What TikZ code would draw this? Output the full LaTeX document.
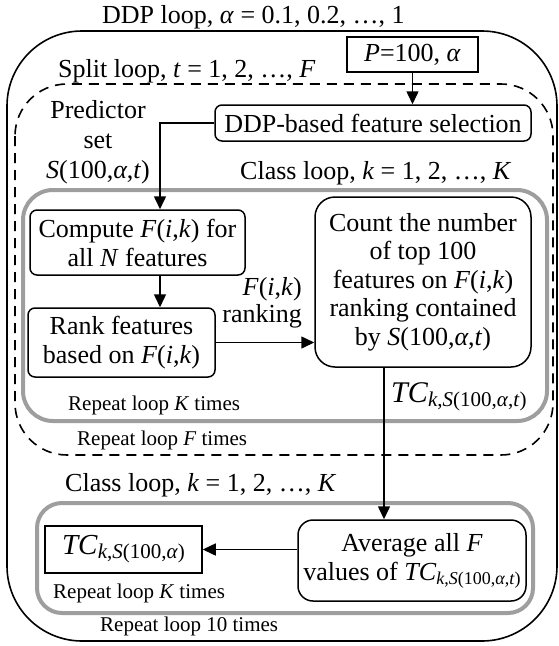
\documentclass[tikz,border=0pt]{standalone}
\usepackage{fontspec}
\setmainfont{Liberation Serif}
\usetikzlibrary{arrows.meta}
\definecolor{loopgray}{RGB}{158,158,158}
% italic symbol inside running text
\newcommand{\mi}[1]{\textit{#1}}
% TC with a lowered subscript: #1 size of TC, #2 size of subscript, #3 subscript
\newcommand{\TCsub}[3]{{\fontsize{#1}{#1}\selectfont\mi{TC}}\raisebox{-4pt}{\fontsize{#2}{#2}\selectfont #3}}
\begin{document}
\begin{tikzpicture}[x=1pt,y=-1pt,
  txt/.style={font=\fontsize{26}{30}\selectfont, inner sep=0pt},
  small/.style={font=\fontsize{21}{24}\selectfont, inner sep=0pt},
  stepbox/.style={draw, line width=1.5pt, rounded corners=7pt, align=center,
    inner sep=0pt, font=\fontsize{26}{29}\selectfont},
  plainbox/.style={draw, line width=1.5pt, inner sep=0pt, font=\fontsize{26}{29}\selectfont},
  arr/.style={line width=1.5pt, -{Triangle[length=13pt,width=12pt]}},
  loopline/.style={draw, line width=1.6pt},
  grayloop/.style={draw=loopgray, line width=4pt}]
\useasboundingbox (0,0) rectangle (559,646);

% nested loop frames
\draw[loopline, rounded corners=75pt] (7,31) rectangle (557,641);
\draw[loopline, dash pattern=on 10pt off 7pt, rounded corners=52pt] (15,84) rectangle (553,455);
\draw[grayloop, rounded corners=30pt] (23,190) rectangle (547,421);
\draw[grayloop, rounded corners=25pt] (37,503) rectangle (533,613);

% loop captions
\node[txt, anchor=base west] (title) at (102,23) {DDP loop, \mi{α} = 0.1, 0.2, …, 1};
\node[txt, anchor=base west] (split) at (58,77) {Split loop, \mi{t} = 1, 2, …, \mi{F}};
\node[txt, anchor=base west] (classA) at (240,179) {Class loop, \mi{k} = 1, 2, …, \mi{K}};
\node[small, anchor=base west] (repK1) at (68,410) {Repeat loop \mi{K} times};
\node[small, anchor=base west] (repF) at (77,445) {Repeat loop \mi{F} times};
\node[txt, anchor=base west] (classB) at (65,491) {Class loop, \mi{k} = 1, 2, …, \mi{K}};
\node[small, anchor=base west] (repK2) at (53,598) {Repeat loop \mi{K} times};
\node[small, anchor=base west] (rep10) at (100,631) {Repeat loop 10 times};

% process boxes
\node[plainbox, minimum width=131pt, minimum height=35pt] (pset) at (412.5,54.5) {\mi{P}=100,\ \mi{α}};
\node[stepbox, minimum width=316pt, minimum height=36pt] (ddp) at (373,123) {DDP-based feature selection};
\node[txt, align=center] (pred) at (98,142) {Predictor\\set\\\mi{S}(100,\mi{α},\mi{t})};
\node[stepbox, minimum width=215pt, minimum height=65pt] (compute) at (137.5,242.5)
  {Compute \mi{F}(\mi{i},\mi{k}) for\\all \mi{N} features};
\node[stepbox, minimum width=187pt, minimum height=69pt] (rank) at (121.5,342.5)
  {Rank features\\based on \mi{F}(\mi{i},\mi{k})};
\node[stepbox, rounded corners=20pt, minimum width=216pt, minimum height=170pt,
  font=\fontsize{26}{28.5}\selectfont] (count) at (423,282)
  {Count the number\\of top 100\\features on \mi{F}(\mi{i},\mi{k})\\ranking contained\\by \mi{S}(100,\mi{α},\mi{t})};
\node[txt, anchor=base east] (fik) at (302,295) {\mi{F}(\mi{i},\mi{k})};
\node[txt, anchor=base east] (rk) at (302,322) {ranking};
\node[anchor=base west, inner sep=0pt] (tcl) at (391,402)
  {\TCsub{30}{21}{\mi{k},\mi{S}(100,\mi{α},\mi{t})}};
\node[plainbox, minimum width=157pt, minimum height=47pt] (tcres) at (123.5,549.5)
  {\TCsub{29}{21}{\mi{k},\mi{S}(100,\mi{α})}};
\node[stepbox, rounded corners=15pt, minimum width=228pt, minimum height=81pt] (avg) at (412,560.5)
  {Average all \mi{F}\\values of \TCsub{26}{18}{\mi{k},\mi{S}(100,\mi{α},\mi{t})}};

% connectors
\coordinate (bend) at (160,123);
\coordinate (drop) at (384,0);
\draw[arr] (pset.south) -- (ddp.north -| pset.south);
\draw[arr] (ddp.west) -- (bend) -- (bend |- compute.north);
\draw[arr] (compute.south -| bend) -- (rank.north -| bend);
\draw[arr] (rank.east) -- (rank.east -| count.west);
\draw[arr] (count.south -| drop) -- (avg.north -| drop);
\draw[arr] (avg.west |- tcres.east) -- (tcres.east);
\end{tikzpicture}
\end{document}
